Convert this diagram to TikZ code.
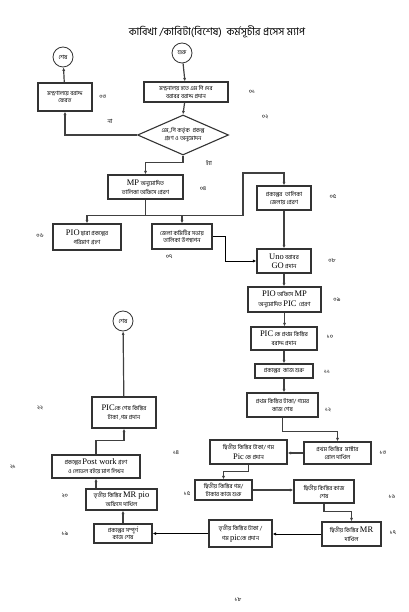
\documentclass[tikz,border=0pt]{standalone}
\usepackage{fontspec}
\newfontfamily\bn[Script=Bengali]{Hind Siliguri}
\newfontfamily\lat{Liberation Serif}
\usetikzlibrary{shapes.geometric,arrows.meta,calc}
\newcommand{\La}[1]{{\lat\fontsize{8.5}{9}\selectfont #1}}
\begin{document}
\begin{tikzpicture}[x=1pt,y=-1pt,
  box/.style={draw=black!80, line width=1.1pt, inner sep=0pt, align=center,
    font=\bn\fontsize{5.8}{7.8}\selectfont},
  term/.style={draw=black!80, line width=0.8pt, circle, inner sep=0pt, minimum size=20pt,
    font=\bn\fontsize{5.8}{6}\selectfont},
  num/.style={font=\bn\fontsize{5.8}{6}\selectfont, inner sep=0pt},
  conn/.style={draw=black!75, line width=1.2pt, -{Latex[length=3.5pt,width=3pt]}},
  thinconn/.style={draw=black, line width=0.7pt, -{Latex[length=3.5pt,width=3pt]}},
  plain/.style={draw=black!75, line width=1.2pt}
]
\useasboundingbox[fill=white] (0,0) rectangle (408,612);

% title
\node[font=\bn\fontsize{10.5}{11}\selectfont, inner sep=0pt] (title) at (217,32) {কাবিখা /কাবিটা(বিশেষ)\ \ কর্মসূচীর প্রসেস ম্যাপ};

% nodes
\node[term] (start) at (182,53) {শুরু};
\node[term] (end1) at (63,57) {শেষ};
\node[box, minimum width=84, minimum height=20] (b01) at (186,92) {মন্ত্রনালয় হতে এম পি দের\\বরাবর বরাদ্দ প্রদান};
\node[box, minimum width=54, minimum height=28] (b03) at (65,97) {মন্ত্রণালয়ে বরাদ্দ\\ফেরত};
\node[draw=black!80, line width=1.1pt, diamond, aspect=2.3, minimum width=91, minimum height=40, inner sep=0pt] (dia) at (183,135) {};
\node[box, draw=none] (diat) at (183,135) {এম,,পি কর্তৃক\ \ প্রকল্প\\গ্রহণ ও অনুমোদন};
\node[box, minimum width=75, minimum height=24] (b04) at (145.5,187) {\La{MP} অনুমোদিত\\[1pt]তালিকা অফিসে প্রেরণ};
\node[box, minimum width=54, minimum height=24] (b05) at (284,198) {প্রকল্পের\ \ তালিকা\\জেলায় প্রেরণ};
\node[box, minimum width=68, minimum height=26] (b06) at (87,237) {\La{PIO} দ্বারা প্রকল্পের\\[1pt]পরিমাণ গ্রহণ};
\node[box, minimum width=60, minimum height=25] (b07) at (182,236.5) {জেলা কমিটির সভায়\\তালিকা উপস্থাপন};
\node[box, minimum width=54, minimum height=24] (b08) at (284,261) {\La{Uno} বরাবর\\[1pt]\La{GO} প্রদান};
\node[box, minimum width=73, minimum height=25] (b09) at (284.5,299.5) {\La{PIO} অফিসে \La{MP}\\[2pt]অনুমোদিত \La{PIC}\ \ প্রেরণ};
\node[box, minimum width=66, minimum height=23] (b10) at (284,338.5) {\La{PIC} কে প্রথম কিস্তির\\[1pt]বরাদ্দ প্রদান};
\node[box, minimum width=58, minimum height=14] (b11) at (284,371) {প্রকল্পের\ \ কাজ শুরু};
\node[box, minimum width=71, minimum height=24] (b12) at (282.5,405) {প্রথম কিস্তির টাকা/ গমের\\কাজ শেষ};
\node[box, minimum width=67, minimum height=22] (b13) at (337.5,453) {প্রথম কিস্তির\ \ মাস্টার\\রোল দাখিল};
\node[box, minimum width=77, minimum height=24] (b14) at (248.5,452) {দ্বিতীয় কিস্তির টাকা/ গম\\[2pt]\La{Pic} কে প্রদান};
\node[box, minimum width=57, minimum height=20] (b15) at (223.5,490) {দ্বিতীয় কিস্তির গম/\\টাকার কাজ শুরু};
\node[box, minimum width=60, minimum height=23] (b16) at (324,491.5) {দ্বিতীয় কিস্তির কাজ\\শেষ};
\node[box, minimum width=59, minimum height=24] (b17) at (351.5,534) {দ্বিতীয় কিস্তির \La{MR}\\[1pt]দাখিল};
\node[box, minimum width=63, minimum height=27] (b18) at (240.5,533.5) {তৃতীয় কিস্তির টাকা /\\[2pt]গম \La{pic}কে প্রদান};
\node[box, minimum width=58, minimum height=19] (b19) at (123,533.5) {প্রকল্পের সম্পূর্ণ\\কাজ শেষ};
\node[box, minimum width=71, minimum height=21] (b20) at (121.5,499.5) {তৃতীয় কিস্তির \La{MR pio}\\[1pt]অফিসে দাখিল};
\node[box, minimum width=88, minimum height=23] (b21) at (96,466.5) {প্রকল্পের \La{Post work} গ্রহণ\\[1pt]ও লেভেল বইয়ে মাপ লিখন};
\node[box, minimum width=64, minimum height=31] (b22) at (124,412.5) {\La{PIC}কে শেষ কিস্তির\\[1pt]টাকা ,গম প্রদান};
\node[term] (end2) at (123,321) {শেষ};

% step numbers
\node[num] (n01) at (252,92) {০১};
\node[num] (n02) at (265,117) {০২};
\node[num] (n03) at (103,97) {০৩};
\node[num] (no) at (110,121) {না};
\node[num] (yes) at (209,163) {হ্যাঁ};
\node[num] (n04) at (203,189) {০৪};
\node[num] (n05) at (333,197) {০৫};
\node[num] (n06) at (40,236) {০৬};
\node[num] (n07) at (169,257) {০৭};
\node[num] (n08) at (332,261) {০৮};
\node[num] (n09) at (337,300) {০৯};
\node[num] (n10) at (330,337) {১০};
\node[num] (n11) at (327,372) {১১};
\node[num] (n12) at (328,410) {১২};
\node[num] (n13) at (383,453) {১৩};
\node[num] (n14) at (176,453) {১৪};
\node[num] (n15) at (187,494) {১৫};
\node[num] (n16) at (392,497) {১৬};
\node[num] (n17) at (393,533) {১৭};
\node[num] (n19) at (65,534) {১৯};
\node[num] (n20) at (65,496) {২০};
\node[num] (n21) at (13,467) {২১};
\node[num] (n22) at (40,408) {২২};
\node[num] (n18) at (238,600) {১৮};

% connectors
\draw[conn] (start) -- (b01);
\draw[conn] (b01) -- (dia.north);
\draw[conn] (dia.west) -| (b03.south);
\draw[conn] (b03) -- (end1);
\draw[conn] (dia.south) -- ++(0,7) -| (b04.north);
\coordinate (j4) at ($(b04.south)+(0,16)$);
\coordinate (k4) at (243,173);
\draw[plain] (b04.south) -- (j4);
\draw[conn] (j4) -| (b06.north);
\draw[conn] (j4) -| (b07.north);
\draw[conn] (j4) -| (k4) -| (b05.north);
\draw[thinconn] (b07.east) -- ++(13,0) |- (b08.west);
\draw[conn] (b05) -- (b08);
\draw[conn] (b08.south) -- (b08.south |- b09.north);
\draw[conn] (b09.south) -- (b09.south |- b10.north);
\draw[conn] (b10.south) -- (b10.south |- b11.north);
\draw[conn] (b11.south) -- (b11.south |- b12.north);
\draw[conn] (b12.south) -- ++(0,14) -| (b13.north);
\draw[conn] (b13.west) -- (b13.west -| b14.east);
\draw[conn] (b14.south) -- ++(0,7) -| (b15.north);
\draw[conn] (b15.east) -- (b15.east -| b16.west);
\draw[conn] (b16.south) -- ++(0,8) -| (b17.north);
\draw[thinconn] (b17.west) -- (b17.west -| b18.east);
\draw[thinconn] (b18.west) -- (b18.west -| b19.east);
\draw[conn] (b19.north) -- (b19.north |- b20.south);
\draw[conn] (b21.south |- b20.north) -- (b21.south);
\draw[conn] (b21.north) -- ++(0,-14) -| (b22.south);
\draw[conn] (b22) -- (end2);
\end{tikzpicture}
\end{document}
